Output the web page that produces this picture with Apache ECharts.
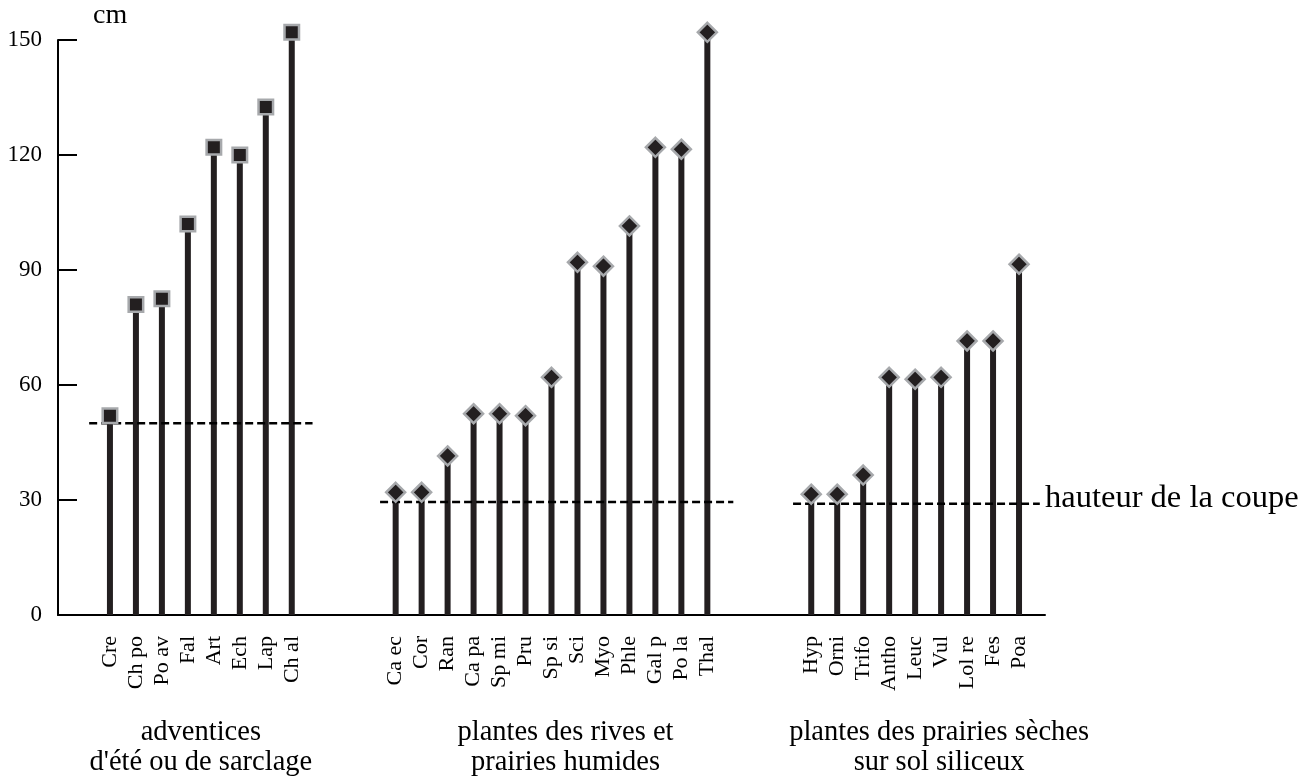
<!DOCTYPE html>
<html>
<head>
<meta charset="utf-8">
<script src="https://cdn.jsdelivr.net/npm/echarts@6/dist/echarts.min.js"></script>
<style>
html,body{margin:0;padding:0;background:#fff;}
#chart{width:1314px;height:784px;}
</style>
</head>
<body>
<div id="chart"></div>
<script>
// ---- data ----
const group1Labels = ['Cre','Ch po','Po av','Fal','Art','Ech','Lap','Ch al'];
const group1Values = [52, 81, 82.5, 102, 122, 120, 132.5, 152];
const group2Labels = ['Ca ec','Cor','Ran','Ca pa','Sp mi','Pru','Sp si','Sci','Myo','Phle','Gal p','Po la','Thal'];
const group2Values = [32, 32, 41.5, 52.5, 52.5, 52, 62, 92, 91, 101.5, 122, 121.5, 152];
const group3Labels = ['Hyp','Orni','Trifo','Antho','Leuc','Vul','Lol re','Fes','Poa'];
const group3Values = [31.5, 31.5, 36.5, 62, 61.5, 62, 71.5, 71.5, 91.5];
const groupNames = ["adventices\nd'été ou de sarclage", "plantes des rives et\nprairies humides", "plantes des prairies sèches\nsur sol siliceux"];
const cutHeights = [50, 29.5, 29];      // hauteur de la coupe per group (cm)
const cutLabel = 'hauteur de la coupe';
const unitLabel = 'cm';

// ---- build category axis with gaps ----
const groups = [
  {labels: group1Labels, values: group1Values},
  {labels: group2Labels, values: group2Values},
  {labels: group3Labels, values: group3Values}
];
const leadGap = 2, midGap = 3, tailGap = 1;
const categories = [];
const groupIdx = [];
let g = 0;
function addGap(n){ for(let i=0;i<n;i++){ categories.push('_gap' + (g++)); } }
addGap(leadGap);
groups.forEach((grp, k) => {
  const s = categories.length;
  grp.labels.forEach(l => categories.push(l));
  groupIdx.push([s, categories.length - 1]);
  addGap(k < groups.length - 1 ? midGap : tailGap);
});
function seriesData(k){
  const arr = categories.map(() => null);
  groups[k].values.forEach((v, i) => { arr[groupIdx[k][0] + i] = v; });
  return arr;
}
const allValues = categories.map(() => null);
groups.forEach((grp, k) => grp.values.forEach((v, i) => { allValues[groupIdx[k][0] + i] = v; }));

const cutExtents = [[groupIdx[0][0] - 0.8, groupIdx[0][1] + 0.8],
                    [groupIdx[1][0] - 0.6, groupIdx[1][1] + 1.0],
                    [groupIdx[2][0] - 0.7, groupIdx[2][1] + 0.8]];

const serif = '"Liberation Serif", "DejaVu Serif", serif';
const ink = '#231f20';
const rim = '#a7a9ac';

const chart = echarts.init(document.getElementById('chart'), null, {renderer: 'canvas'});

const markerStyle = {color: ink, borderColor: rim, borderWidth: 2.5, opacity: 1};

const option = {
  animation: false,
  backgroundColor: '#ffffff',
  grid: {left: 58, right: 269, top: 40, bottom: 169, containLabel: false},
  xAxis: [{
    type: 'category',
    data: categories,
    boundaryGap: false,
    axisLine: {lineStyle: {color: '#000', width: 2}},
    axisTick: {show: false},
    splitLine: {show: false},
    axisLabel: {
      interval: 0, rotate: 90, margin: 21,
      fontFamily: serif, fontSize: 22, color: '#000',
      formatter: v => v.startsWith('_gap') ? '' : v
    }
  }, {
    type: 'value', min: 0, max: categories.length - 1, show: false
  }],
  yAxis: {
    type: 'value', min: 0, max: 150, interval: 30,
    axisLine: {show: true, lineStyle: {color: '#000', width: 2}},
    axisTick: {show: true, inside: true, length: 19, lineStyle: {color: '#000', width: 2}},
    splitLine: {show: false},
    axisLabel: {margin: 16, fontFamily: serif, fontSize: 23, color: '#000'}
  },
  series: [
    {
      type: 'bar', data: allValues, barWidth: 6, clip: false,
      itemStyle: {color: ink}, silent: true, z: 2
    },
    {
      type: 'scatter', data: seriesData(0), symbol: 'rect', symbolSize: 14.5, clip: false,
      itemStyle: markerStyle, z: 5
    },
    {
      type: 'scatter', data: seriesData(1), symbol: 'diamond', symbolSize: 19, clip: false,
      itemStyle: markerStyle, z: 5
    },
    {
      type: 'scatter', data: seriesData(2), symbol: 'diamond', symbolSize: 19, clip: false,
      itemStyle: markerStyle, z: 5
    }
  ].concat(cutHeights.map((h, k) => ({
    type: 'line', xAxisIndex: 1, symbol: 'none', z: 4, clip: false,
    data: [[cutExtents[k][0], h], [cutExtents[k][1], h]],
    lineStyle: {color: '#000', width: 2.5, type: [8, 4]}
  }))),
  graphic: [
    {type: 'text', left: 93, top: 2, style: {text: unitLabel, font: '28px ' + serif, fill: '#000'}},
    {type: 'text', x: 1045, y: 498, style: {text: cutLabel, font: '32.5px ' + serif, fill: '#000', verticalAlign: 'middle', align: 'left'}}
  ]
};
chart.setOption(option);

// group captions, placed under each group (slight offsets as in the original)
const captionShift = [0, 14, 24];
const gfx = option.graphic.slice();
groupIdx.forEach((r, k) => {
  const cx = chart.convertToPixel({xAxisIndex: 1}, (r[0] + r[1]) / 2);
  gfx.push({type: 'text', x: cx + captionShift[k], y: 718,
    style: {text: groupNames[k], font: '28.5px ' + serif, fill: '#000', align: 'center', verticalAlign: 'top', lineHeight: 30}});
});
chart.setOption({graphic: gfx});
</script>
</body>
</html>
